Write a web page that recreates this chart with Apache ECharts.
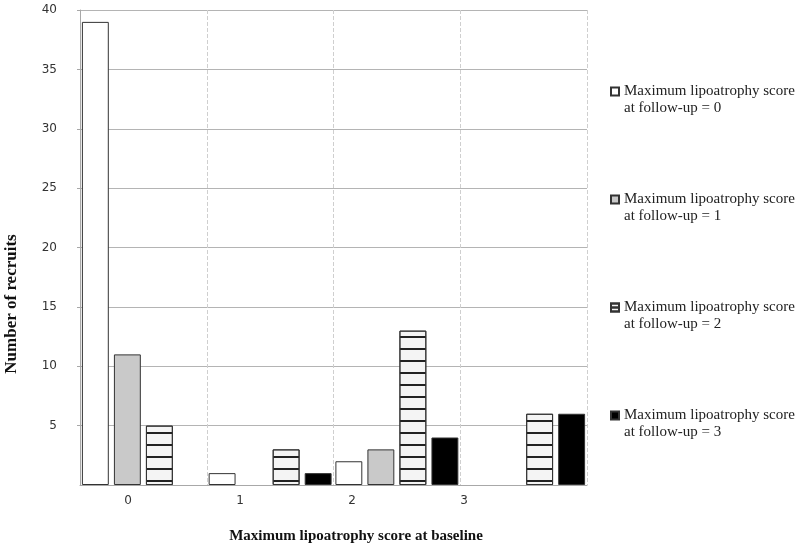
<!DOCTYPE html>
<html>
<head>
<meta charset="utf-8">
<script src="https://cdn.jsdelivr.net/npm/echarts@6/dist/echarts.min.js"></script>
<style>
  html, body { margin: 0; padding: 0; background: #fff; }
  #chart { width: 800px; height: 548px; }
</style>
</head>
<body>
<div id="chart"></div>
<script>
  // baseline score groups (x axis) and their printed tick labels
  var baselineScores = ['0', '1', '2', '3'];
  var tickLabels = ['0', '1', '2', '3'];

  // number of recruits per follow-up score
  var followUp0 = [39, 1, 2, 0];
  var followUp1 = [11, 0, 3, 0];
  var followUp2 = [5, 3, 13, 6];
  var followUp3 = [0, 1, 4, 6];

  var seriesNames = [
    'Maximum lipoatrophy score at follow-up = 0',
    'Maximum lipoatrophy score at follow-up = 1',
    'Maximum lipoatrophy score at follow-up = 2',
    'Maximum lipoatrophy score at follow-up = 3'
  ];

  var chart = echarts.init(document.getElementById('chart'));

  var stripes = {
    symbol: 'rect',
    symbolSize: 1,
    color: '#222',
    dashArrayX: [1, 0],
    dashArrayY: [2, 10],
    rotation: 0
  };

  function barSeries(name, values, fill, decal) {
    var style = { color: fill, borderColor: '#333', borderWidth: 1 };
    if (decal) {
      style.decal = decal;
    }
    return {
      name: name,
      type: 'bar',
      xAxisIndex: 0,
      yAxisIndex: 0,
      // a zero count draws no bar at all
      data: values.map(function (v) { return v === 0 ? null : v; }),
      barGap: '19%',
      barCategoryGap: '3%',
      itemStyle: style
    };
  }

  var option = {
    animation: false,
    backgroundColor: '#fff',
    grid: [
      { left: 80, right: 213, top: 10, bottom: 63, outerBoundsMode: 'none' },
      // helper grid only carrying the shifted tick labels
      { left: 72, width: 448, top: 10, bottom: 63, outerBoundsMode: 'none' }
    ],
    legend: {
      orient: 'vertical',
      left: 610,
      top: 66,
      padding: 0,
      itemGap: 57,
      itemWidth: 8,
      itemHeight: 8,
      icon: 'rect',
      selectedMode: false,
      data: [
        { name: seriesNames[0] },
        { name: seriesNames[1] },
        {
          name: seriesNames[2],
          icon: 'path://M0,0L10,0L10,10L0,10ZM0,5L10,5',
          itemStyle: {
            color: '#f4f4f4',
            decal: { symbol: 'rect', dashArrayX: [1, 0], dashArrayY: [1, 8], color: 'rgba(0,0,0,0)' }
          }
        },
        { name: seriesNames[3] }
      ],
      // blank first line keeps the icon level with the first text line
      formatter: function (name) {
        return ' \n' + name.replace(' at follow', '\nat follow');
      },
      textStyle: {
        fontFamily: 'Liberation Serif',
        fontSize: 15,
        lineHeight: 17,
        color: '#222'
      }
    },
    xAxis: [
      {
        type: 'category',
        gridIndex: 0,
        data: baselineScores,
        axisLine: { lineStyle: { color: '#a8a8a8' } },
        axisTick: { show: false },
        axisLabel: { show: false },
        splitLine: { show: true, lineStyle: { color: '#cfcfcf', type: 'dashed' } },
        name: 'Maximum lipoatrophy score at baseline',
        nameLocation: 'middle',
        nameGap: 44,
        nameTextStyle: {
          fontFamily: 'Liberation Serif',
          fontWeight: 'bold',
          fontSize: 15,
          color: '#111',
          padding: [0, 0, 0, 45]
        }
      },
      {
        type: 'category',
        gridIndex: 1,
        data: tickLabels,
        axisLine: { show: false },
        axisTick: { show: false },
        splitLine: { show: false },
        axisLabel: {
          margin: 10,
          fontFamily: 'DejaVu Sans',
          fontSize: 12,
          color: '#333'
        }
      }
    ],
    yAxis: [
      {
        type: 'value',
        gridIndex: 0,
        min: 0,
        max: 40,
        interval: 5,
        axisLine: { show: true, lineStyle: { color: '#a8a8a8' } },
        axisTick: { show: true, length: 3, lineStyle: { color: '#a8a8a8' } },
        splitLine: { lineStyle: { color: '#b4b4b4' } },
        axisLabel: {
          showMinLabel: false,
          margin: 23,
          fontFamily: 'DejaVu Sans',
          fontSize: 12,
          color: '#333',
          padding: [0, 0, 8, 0]
        },
        name: 'Number of recruits',
        nameLocation: 'middle',
        nameGap: 60,
        nameTextStyle: {
          fontFamily: 'Liberation Serif',
          fontWeight: 'bold',
          fontSize: 17,
          color: '#111',
          padding: [0, 113, 0, 0]
        }
      },
      {
        type: 'value',
        gridIndex: 1,
        show: false
      }
    ],
    series: [
      barSeries(seriesNames[0], followUp0, '#ffffff'),
      barSeries(seriesNames[1], followUp1, '#c9c9c9'),
      barSeries(seriesNames[2], followUp2, '#f4f4f4', stripes),
      barSeries(seriesNames[3], followUp3, '#000000')
    ]
  };

  chart.setOption(option);
</script>
</body>
</html>
